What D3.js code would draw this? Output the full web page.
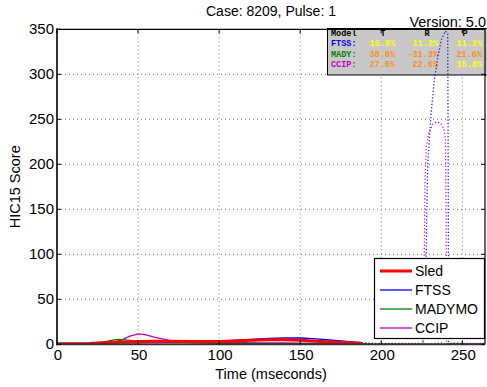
<!DOCTYPE html>
<html><head><meta charset="utf-8">
<script src="https://cdn.jsdelivr.net/npm/d3@7/dist/d3.min.js"></script>
<style>
html,body{margin:0;padding:0;background:#fff;}
svg{display:block;font-family:"Liberation Sans",Arial,sans-serif;}
</style></head>
<body><svg id="c" width="487" height="387"></svg>
<script>
// ---- data ----
const xTicks = [0, 50, 100, 150, 200, 250];
const yTicks = [0, 50, 100, 150, 200, 250, 300, 350];
const seriesNames = ["Sled", "FTSS", "MADYMO", "CCIP"];
const seriesColors = ["#ff0000", "#0000ff", "#008000", "#bf00bf"];
const solidEnd = [188, 186, 190, 190]; // dotted afterwards

const sledT = [0,10,20,30,40,50,60,70,80,90,100,110,120,130,140,150,160,170,180,188,195,200,210,220,225];
const sledV = [0.5,0.5,1,2,2.5,3,3.5,3.5,3,3,3.2,3.8,4.5,5,5,4.5,3.5,2.5,1.8,1.3,1.1,1,1,1,0.5];

const ftssT = [0,10,20,30,40,50,60,70,80,90,100,110,120,130,140,150,160,170,180,186,190,200,210,220,226,227.5,228,228.7,229.3,231,232.7,235,237,239.5,241,241.3,241.6,245,250,255,264];
const ftssV = [0,0,0.5,1.5,2,2,2.5,2.5,2.5,3,3.5,4.5,5.5,6.5,7,7,6,4.5,3,2,1.2,0.6,0.5,0.5,0.8,60,140,200,218,262,293,320,338,348,345,200,0.8,0.6,0.6,0.6,0.6];

const madyT = [0,10,20,25,30,35,38,42,50,60,70,80,90,100,110,120,130,140,150,160,170,180,190,200,210,220,230,237,240,247,250,264];
const madyV = [0,0,0,1,3,5,5.5,5,3.5,3.5,3.5,2,1.5,1,1,1,0.8,0.8,0.8,0.5,0.5,0.5,0.5,0.5,0.5,0.5,0.5,1.5,0.5,1.5,0.5,0.5];

const ccipT = [0,10,20,30,35,40,45,50,55,60,70,80,90,100,110,120,130,140,150,160,170,180,190,200,210,220,225.5,226.3,227,227.8,229.5,232,234.5,236.5,238.5,239.6,240,240.3,245,250,264];
const ccipV = [1,1,1,1.5,2.5,5,9,11.5,10.5,8,4,2.5,2,2,2,1.5,1.5,1.5,1.2,1,1,1,0.8,0.8,0.8,0.8,1,60,180,220,236,245,247,246,240,228,150,1,1,1,1];

const seriesT = [sledT, ftssT, madyT, ccipT];
const seriesV = [sledV, ftssV, madyV, ccipV];

const tableHeader = ["Model", "T", "R", "P"];
const tableRows = ["FTSS:", "MADY:", "CCIP:"];
const tableVals = [["15.8%","11.2%","11.2%"],["38.0%","-31.3%","21.6%"],["27.6%","22.6%","15.8%"]];
const tableValColors = [["#ffff00","#ffff00","#ffff00"],["#ff8c1a","#ff8c1a","#ff8c1a"],["#ff8c1a","#ff8c1a","#ffff00"]];

// ---- layout ----
const svg = d3.select("#c");
const L = 57, R = 485, T = 29.3, B = 344.3;
const x = d3.scaleLinear().domain([0, 264]).range([L, R]);
const y = d3.scaleLinear().domain([0, 350]).range([B, T]);

svg.append("defs").append("clipPath").attr("id","clip")
  .append("rect").attr("x",L).attr("y",T).attr("width",R-L).attr("height",B-T);

// grid
const grid = svg.append("g");
xTicks.filter(d=>d>0).forEach(d=>{
  grid.append("line").attr("x1",x(d)).attr("x2",x(d)).attr("y1",T).attr("y2",B)
    .attr("stroke","#777").attr("stroke-width",1).attr("stroke-dasharray","1,3");
});
yTicks.filter(d=>d>0&&d<350).forEach(d=>{
  grid.append("line").attr("x1",L).attr("x2",R).attr("y1",y(d)).attr("y2",y(d))
    .attr("stroke","#777").attr("stroke-width",1).attr("stroke-dasharray","1,3");
});

// stats table (beneath the lines)
const tb = svg.append("g");
tb.append("rect").attr("x",327.5).attr("y",28.5).attr("width",165).attr("height",46.5)
  .attr("fill","#c8c8c8").attr("stroke","#000").attr("stroke-width",1);
const tf = '"Liberation Mono","DejaVu Sans Mono",monospace';
const colX = [331, 383, 427, 465];
const valX = [395, 438, 482];
tableHeader.forEach((h,i)=>{
  tb.append("text").attr("x",colX[i]).attr("y",35.5).attr("text-anchor", i===0?"start":"middle")
    .attr("font-family",tf).attr("font-weight","bold").attr("font-size",8.5).attr("fill","#000").text(h);
});
tableRows.forEach((r,j)=>{
  const yy = 46 + j*10.6;
  tb.append("text").attr("x",331).attr("y",yy).attr("font-family",tf).attr("font-weight","bold")
    .attr("font-size",8.5).attr("fill",seriesColors[j+1]).text(r);
  tableVals[j].forEach((v,i)=>{
    tb.append("text").attr("x",valX[i]).attr("y",yy).attr("text-anchor","end").attr("font-family",tf)
      .attr("font-weight","bold").attr("font-size",8.5).attr("fill",tableValColors[j][i]).text(v);
  });
});

// lines
const lg = svg.append("g").attr("clip-path","url(#clip)");
const line = d3.line().x(d=>x(d[0])).y(d=>y(d[1]));
seriesNames.forEach((n,i)=>{
  const pts = seriesT[i].map((t,k)=>[t, seriesV[i][k]]);
  const dotted = pts.filter(p=>p[0]>=solidEnd[i]);
  lg.append("path").attr("d",line(dotted)).attr("fill","none")
    .attr("stroke",seriesColors[i]).attr("stroke-width",1.3).attr("stroke-dasharray","1.3,2").attr("opacity",0.85);
});
[3,2,1,0].forEach(i=>{
  const pts = seriesT[i].map((t,k)=>[t, seriesV[i][k]]);
  const solid = pts.filter(p=>p[0]<=solidEnd[i]);
  lg.append("path").attr("d",line(solid)).attr("fill","none")
    .attr("stroke",seriesColors[i]).attr("stroke-width", i===0?3:1.3);
});

// axes frame & ticks
const fr = svg.append("g");
fr.append("line").attr("x1",L).attr("x2",R).attr("y1",T).attr("y2",T).attr("stroke","#000").attr("stroke-width",1.2);
fr.append("line").attr("x1",R).attr("x2",R).attr("y1",T).attr("y2",B).attr("stroke","#000").attr("stroke-width",1.2);
fr.append("line").attr("x1",L).attr("x2",L).attr("y1",T-1).attr("y2",B+1).attr("stroke","#333").attr("stroke-width",2);
fr.append("line").attr("x1",L-1).attr("x2",R).attr("y1",B).attr("y2",B).attr("stroke","#333").attr("stroke-width",2);
xTicks.forEach(d=>{
  fr.append("line").attr("x1",x(d)).attr("x2",x(d)).attr("y1",B).attr("y2",B-4).attr("stroke","#000");
  fr.append("line").attr("x1",x(d)).attr("x2",x(d)).attr("y1",T).attr("y2",T+4).attr("stroke","#000");
  fr.append("text").attr("x",x(d)+1).attr("y",360).attr("text-anchor","middle").attr("font-size",15).attr("fill","#000").text(d);
});
yTicks.forEach(d=>{
  fr.append("line").attr("x1",L).attr("x2",L+4).attr("y1",y(d)).attr("y2",y(d)).attr("stroke","#000");
  fr.append("line").attr("x1",R).attr("x2",R-4).attr("y1",y(d)).attr("y2",y(d)).attr("stroke","#000");
  fr.append("text").attr("x",L-3).attr("y",y(d)+5).attr("text-anchor","end").attr("font-size",15).attr("fill","#000").text(d);
});

// labels
svg.append("text").attr("x",(L+R)/2).attr("y",379).attr("text-anchor","middle").attr("font-size",14.5).text("Time (mseconds)");
svg.append("text").attr("transform",`translate(20,${(T+B)/2}) rotate(-90)`).attr("text-anchor","middle").attr("font-size",14.5).text("HIC15 Score");
svg.append("text").attr("x",(L+R)/2).attr("y",16).attr("text-anchor","middle").attr("font-size",14).text("Case: 8209, Pulse: 1");
svg.append("text").attr("x",486).attr("y",26.5).attr("text-anchor","end").attr("font-size",14.5).text("Version: 5.0");

// legend
const leg = svg.append("g");
leg.append("rect").attr("x",374.5).attr("y",258.5).attr("width",110).attr("height",80)
  .attr("fill","#fff").attr("stroke","#000").attr("stroke-width",1.2);
seriesNames.forEach((n,i)=>{
  const yy = 271 + i*19;
  leg.append("line").attr("x1",380).attr("x2",412).attr("y1",yy).attr("y2",yy)
    .attr("stroke",seriesColors[i]).attr("stroke-width", i===0?3:1.3);
  leg.append("text").attr("x",415).attr("y",yy+5).attr("font-size",14).attr("fill","#000").text(n);
});
</script></body></html>
